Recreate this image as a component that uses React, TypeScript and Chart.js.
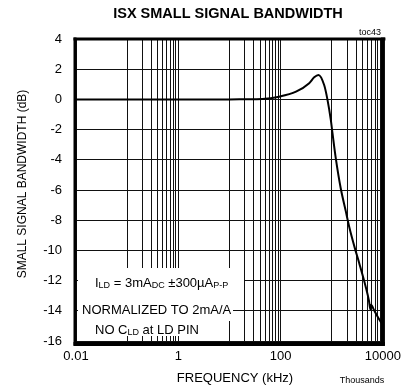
import React, { useEffect, useRef } from "react";
import { Chart, registerables } from "chart.js";

Chart.register(...registerables);

// ---- data ----
const freqKHz = [
  0.01, 0.1, 1, 10, 20, 44, 94, 200, 362, 453, 549, 710, 822,
  958, 1030, 1199, 1500, 1878, 2179, 2851, 3413, 4604, 5343, 5664, 5845, 6683, 7745, 9150, 10000,
];
const gainDb = [
  0, 0, 0, 0, 0.01, 0.03, 0.18, 0.51, 1.07, 1.46, 1.62, 0.95, 0,
  -1.36, -2.2, -3.9, -5.9, -7.4, -8.4, -9.9, -10.8, -12.4, -13.35, -13.9, -13.6, -13.95, -14.35, -14.75, -14.9,
];
const xGridValues = [
  0.01, 0.1, 0.2, 0.3, 0.4, 0.5, 0.6, 0.7, 0.8, 0.9, 1, 10, 20, 30, 40, 50, 60, 70, 80, 90, 100,
  1000, 2000, 3000, 4000, 5000, 6000, 7000, 8000, 9000, 10000,
];
const xTickValues = [0.01, 1, 100, 10000];
const xTickLabels = ["0.01", "1", "100", "10000"];
const yMin = -16;
const yMax = 4;
const yStep = 2;

const titleText = "ISX SMALL SIGNAL BANDWIDTH";
const xTitleText = "FREQUENCY (kHz)";
const yTitleText = "SMALL SIGNAL BANDWIDTH (dB)";
const noteLine2 = "NORMALIZED TO 2mA/A";

const FONT = "'Liberation Sans', Arial, sans-serif";

type Run = [string, boolean];
const noteLine1: Run[] = [["I", false], ["LD", true], [" = 3mA", false], ["DC", true], [" ±300µA", false], ["P-P", true]];
const noteLine3: Run[] = [["NO C", false], ["LD", true], [" at LD PIN", false]];

function drawRuns(ctx: CanvasRenderingContext2D, x: number, y: number, runs: Run[]) {
  let cx = x;
  for (const [t, sub] of runs) {
    ctx.font = sub ? `9px ${FONT}` : `13px ${FONT}`;
    ctx.fillText(t, cx, sub ? y + 3 : y);
    cx += ctx.measureText(t).width;
  }
}

const textPlugin = {
  id: "textPlugin",
  afterDatasetsDraw(chart: any) {
    const ctx = chart.ctx as CanvasRenderingContext2D;
    const a = chart.chartArea;
    ctx.save();
    // white note backgrounds
    ctx.fillStyle = "#fff";
    ctx.fillRect(a.left + 2, 268, 244 - a.left - 2, 27);
    ctx.fillRect(a.left + 2, 295, 233 - a.left - 2, 26);
    ctx.fillRect(a.left + 2, 321, 205 - a.left - 2, 15);
    ctx.fillStyle = "#000";
    ctx.textBaseline = "middle";
    ctx.textAlign = "left";
    drawRuns(ctx, 95, 283, noteLine1);
    ctx.font = `13px ${FONT}`;
    ctx.fillText(noteLine2, 82, 310);
    drawRuns(ctx, 95, 330, noteLine3);
    ctx.restore();
  },
  afterDraw(chart: any) {
    const ctx = chart.ctx as CanvasRenderingContext2D;
    const a = chart.chartArea;
    ctx.save();
    // frame
    ctx.fillStyle = "#000";
    ctx.fillRect(a.left - 2.5, a.top - 1.5, 3, a.bottom - a.top + 6);
    ctx.fillRect(a.left - 2.5, a.top - 1.5, a.right - a.left + 5, 3);
    ctx.fillRect(a.right - 2, a.top - 1.5, 4, a.bottom - a.top + 6);
    ctx.fillRect(a.left - 2.5, a.bottom + 1, a.right - a.left + 4.5, 4);
    // titles
    ctx.textBaseline = "middle";
    ctx.textAlign = "center";
    ctx.font = `bold 14.5px ${FONT}`;
    ctx.fillText(titleText, 228, 14);
    ctx.font = `13px ${FONT}`;
    ctx.fillText(xTitleText, 235, 378);
    ctx.font = `9px ${FONT}`;
    ctx.fillText("Thousands", 362, 381);
    ctx.textAlign = "right";
    ctx.fillText("toc43", 381, 33);
    ctx.textAlign = "center";
    ctx.translate(23, 184);
    ctx.rotate(-Math.PI / 2);
    ctx.font = `12px ${FONT}`;
    ctx.fillText(yTitleText, 0, 0);
    ctx.restore();
  },
};

export default function App() {
  const ref = useRef<HTMLCanvasElement>(null);
  useEffect(() => {
    document.body.style.margin = "0";
    const chart = new Chart(ref.current!, {
      type: "line",
      data: {
        datasets: [
          {
            data: freqKHz.map((f, i) => ({ x: f, y: gainDb[i] })),
            borderColor: "#000",
            borderWidth: 2,
            pointRadius: 0,
            cubicInterpolationMode: "monotone",
            fill: false,
          },
        ],
      },
      options: {
        animation: false,
        responsive: false,
        maintainAspectRatio: false,
        devicePixelRatio: 1,
        layout: { padding: { top: 39, right: 25, left: 0, bottom: 0 } },
        plugins: { legend: { display: false }, tooltip: { enabled: false }, title: { display: false } },
        scales: {
          x: {
            type: "logarithmic",
            min: 0.01,
            max: 10000,
            afterBuildTicks: (s: any) => {
              s.ticks = xGridValues.map((v) => ({ value: v }));
            },
            afterFit: (s: any) => {
              s.height = 49;
            },
            grid: { color: "#111", lineWidth: 1, drawTicks: false },
            border: { display: false },
            ticks: {
              autoSkip: false,
              maxRotation: 0,
              padding: 8,
              color: "#000",
              font: { family: FONT, size: 13 },
              callback: (v: any) => {
                const i = xTickValues.indexOf(Number(v));
                return i >= 0 ? xTickLabels[i] : "";
              },
            },
          },
          y: {
            type: "linear",
            min: yMin,
            max: yMax,
            afterFit: (s: any) => {
              s.width = 76;
            },
            grid: { color: "#111", lineWidth: 1, drawTicks: false },
            border: { display: false },
            ticks: {
              stepSize: yStep,
              padding: 14,
              color: "#000",
              font: { family: FONT, size: 13 },
            },
          },
        },
      },
      plugins: [textPlugin],
    } as any);
    return () => chart.destroy();
  }, []);
  return (
    <div style={{ position: "absolute", left: 0, top: 0, width: 409, height: 390 }}>
      <canvas ref={ref} width={409} height={390} style={{ width: 409, height: 390 }} />
    </div>
  );
}
